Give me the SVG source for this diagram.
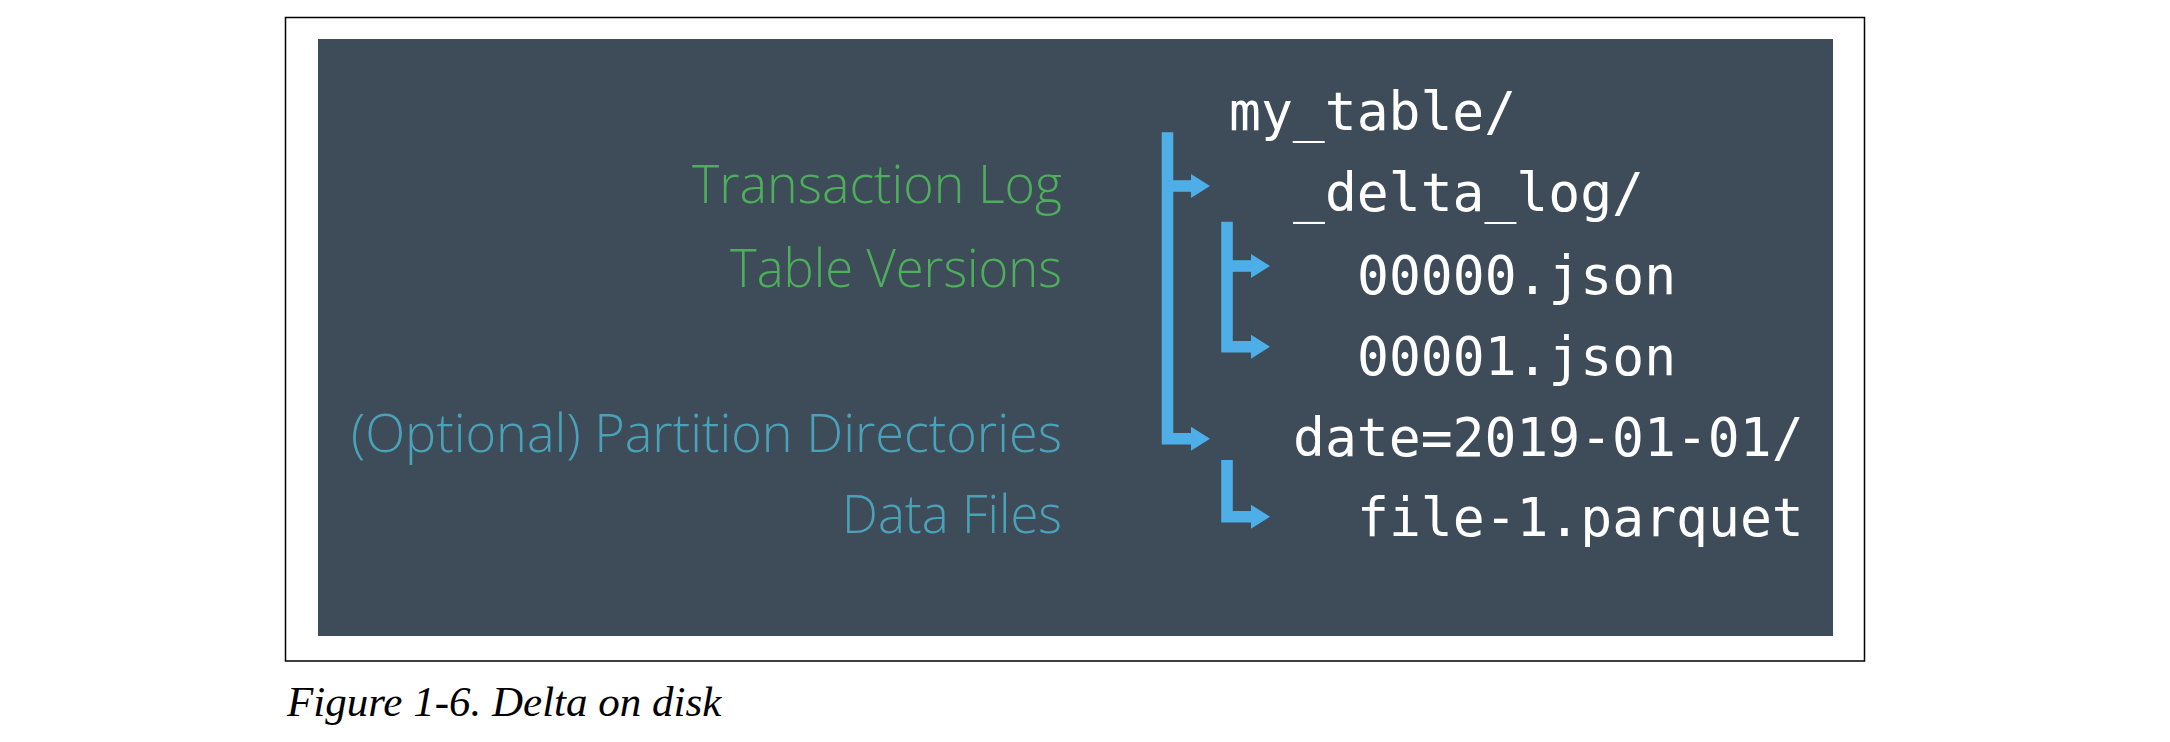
<svg xmlns="http://www.w3.org/2000/svg" width="2170" height="742" viewBox="0 0 2170 742">
<defs>
<style>
.frame{fill:#ffffff;stroke:#000000;stroke-width:1.5}
.panel{fill:#3e4b58}
.mono{font-family:"DejaVu Sans Mono","Liberation Mono",monospace;font-size:53px;fill:#ffffff}
.lbl{font-family:"Open Sans","Lato","Noto Sans",sans-serif;font-weight:300;font-size:53px;text-anchor:end}
.green{fill:#4dae5c}
.teal{fill:#4aa2b8}
.conn{fill:none;stroke:#4daee8;stroke-width:11.6;stroke-linejoin:miter;stroke-linecap:butt}
.cap{font-family:"Liberation Serif","Times New Roman",serif;font-style:italic;font-size:43px;fill:#000000}
</style>
<marker id="ah" viewBox="0 0 19 24" markerWidth="19" markerHeight="24" refX="0" refY="12" markerUnits="userSpaceOnUse" orient="auto">
<path d="M0,0 L19,12 L0,24 Z" fill="#4daee8"/>
</marker>
</defs>
<rect width="2170" height="742" fill="#ffffff"/>
<rect class="frame" x="285.5" y="17.5" width="1579" height="643.5"/>
<rect class="panel" x="318" y="39" width="1515" height="597"/>

<g id="labels">
<text class="lbl green" x="1062" y="203" textLength="370" lengthAdjust="spacingAndGlyphs">Transaction Log</text>
<text class="lbl green" x="1062" y="287" textLength="332" lengthAdjust="spacingAndGlyphs">Table Versions</text>
<text class="lbl teal" x="1062" y="452" textLength="711" lengthAdjust="spacingAndGlyphs">(Optional) Partition Directories</text>
<text class="lbl teal" x="1062" y="533" textLength="220" lengthAdjust="spacingAndGlyphs">Data Files</text>
</g>

<g id="connectors">
<path class="conn" d="M1167.5,132.3 V438.7 H1191" marker-end="url(#ah)"/>
<path class="conn" d="M1167.5,186 H1191" marker-end="url(#ah)"/>
<path class="conn" d="M1227,221.7 V346.7 H1251" marker-end="url(#ah)"/>
<path class="conn" d="M1227,266 H1251" marker-end="url(#ah)"/>
<path class="conn" d="M1227,460 V516.7 H1251" marker-end="url(#ah)"/>
</g>

<g id="node-my_table"><text class="mono" x="1229" y="130">my_table/</text></g>
<g id="node-delta_log"><text class="mono" x="1293" y="211">_delta_log/</text></g>
<g id="node-00000"><text class="mono" x="1357" y="294">00000.json</text></g>
<g id="node-00001"><text class="mono" x="1357" y="375">00001.json</text></g>
<g id="node-date"><text class="mono" x="1293" y="456">date=2019-01-01/</text></g>
<g id="node-file"><text class="mono" x="1357" y="536">file-1.parquet</text></g>

<text class="cap" x="287" y="716">Figure 1-6. Delta on disk</text>
</svg>
